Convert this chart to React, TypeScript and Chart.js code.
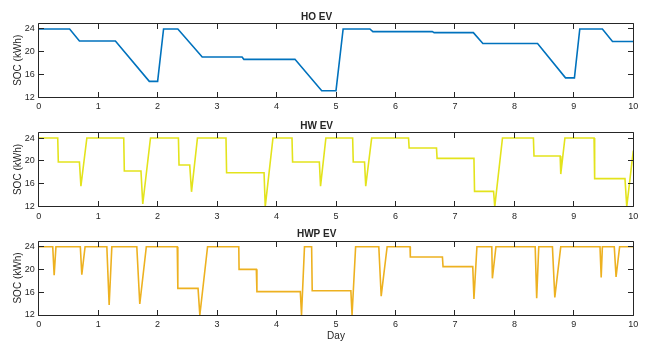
import React, { useEffect, useRef } from "react";
import { Chart, registerables } from "chart.js";

Chart.register(...registerables);

// ---- data ----
const dayTicks = [0, 1, 2, 3, 4, 5, 6, 7, 8, 9, 10];
const socTicks = [12, 16, 20, 24];

const titles = ["HO EV", "HW EV", "HWP EV"];
const colors = ["#0072BD", "#E3E31C", "#EDB120"];

const hoDays = [0, 0.52, 0.685, 1.29, 1.86, 2.0, 2.1, 2.34, 2.75, 3.42, 3.45, 4.31, 4.76, 5.0, 5.12, 5.57, 5.62, 6.62, 6.65, 7.31, 7.47, 8.39, 8.86, 9.01, 9.1, 9.48, 9.65, 10];
const hoSoc = [24, 24, 21.9, 21.9, 14.8, 14.8, 24, 24, 19.07, 19.07, 18.67, 18.67, 13.16, 13.16, 24, 24, 23.54, 23.54, 23.36, 23.36, 21.45, 21.45, 15.42, 15.42, 24, 24, 21.8, 21.8];

const hwDays = [0, 0.32, 0.33, 0.685, 0.71, 0.81, 1.43, 1.44, 1.72, 1.75, 1.88, 2.35, 2.36, 2.54, 2.57, 2.67, 3.15, 3.16, 3.79, 3.81, 3.94, 4.26, 4.27, 4.72, 4.74, 4.83, 5.28, 5.29, 5.48, 5.5, 5.6, 6.22, 6.23, 6.69, 6.7, 7.32, 7.33, 7.65, 7.67, 7.8, 8.32, 8.33, 8.77, 8.78, 8.85, 9.34, 9.35, 9.86, 9.89, 10];
const hwSoc = [24, 24, 19.8, 19.8, 15.6, 24, 24, 18.23, 18.23, 12.47, 24, 24, 19.28, 19.28, 14.6, 24, 24, 17.94, 17.94, 12.0, 24, 24, 19.8, 19.8, 15.6, 24, 24, 19.8, 19.8, 15.6, 24, 24, 22.25, 22.25, 20.45, 20.45, 14.68, 14.68, 12.0, 24, 24, 20.85, 20.85, 17.7, 24, 24, 16.9, 16.9, 12.0, 21.8];

const hwpDays = [0, 0.236, 0.26, 0.29, 0.7, 0.725, 0.78, 1.146, 1.185, 1.23, 1.65, 1.7, 1.81, 2.33, 2.34, 2.68, 2.71, 2.84, 3.365, 3.37, 3.66, 3.67, 4.4, 4.42, 4.47, 4.59, 4.6, 5.25, 5.27, 5.33, 5.72, 5.76, 5.86, 6.245, 6.25, 6.79, 6.8, 7.3, 7.32, 7.37, 7.62, 7.63, 7.69, 8.35, 8.375, 8.41, 8.64, 8.68, 8.78, 9.44, 9.46, 9.48, 9.68, 9.71, 9.77, 10];
const hwpSoc = [24, 24, 19.0, 24, 24, 19.1, 24, 24, 13.76, 24, 24, 13.93, 24, 24, 16.68, 16.68, 12.0, 24, 24, 20.02, 20.02, 16.1, 16.1, 12.0, 24, 24, 16.27, 16.27, 12.0, 24, 24, 15.3, 24, 24, 22.2, 22.2, 20.5, 20.5, 14.8, 24, 24, 18.44, 24, 24, 14.93, 24, 24, 15.1, 24, 24, 18.6, 24, 24, 18.7, 24, 24];

const FONT = '"Liberation Sans", Arial, Helvetica, sans-serif';
const INK = "#262626";
const TICK_LEN = 5.5;

const boxPlugin = {
  id: "matlabBox",
  afterDatasetsDraw(chart: any) {
    const { ctx, chartArea: a, scales } = chart;
    const xs = scales.x;
    const ys = scales.y;
    const L = Math.floor(a.left) + 0.5;
    const R = Math.floor(a.right) + 0.5;
    const T = Math.floor(a.top) + 0.5;
    const B = Math.floor(a.bottom) + 0.5;
    ctx.save();
    ctx.strokeStyle = INK;
    ctx.lineWidth = 1;
    ctx.beginPath();
    ctx.rect(L, T, R - L, B - T);
    for (const v of dayTicks) {
      const px = Math.floor(xs.getPixelForValue(v)) + 0.5;
      ctx.moveTo(px, B);
      ctx.lineTo(px, B - TICK_LEN);
      ctx.moveTo(px, T);
      ctx.lineTo(px, T + TICK_LEN);
    }
    for (const v of socTicks) {
      const py = Math.floor(ys.getPixelForValue(v)) + 0.5;
      ctx.moveTo(L, py);
      ctx.lineTo(L + TICK_LEN, py);
      ctx.moveTo(R, py);
      ctx.lineTo(R - TICK_LEN, py);
    }
    ctx.stroke();
    ctx.restore();
  },
};

type Panel = {
  title: string;
  color: string;
  days: number[];
  soc: number[];
  top: number;
  height: number;
  plotTop: number;
  plotBottom: number;
  showDay: boolean;
};

const panels: Panel[] = [
  { title: titles[0], color: colors[0], days: hoDays, soc: hoSoc, top: 0, height: 114, plotTop: 23.3, plotBottom: 97.3, showDay: false },
  { title: titles[1], color: colors[1], days: hwDays, soc: hwSoc, top: 110, height: 114, plotTop: 22.3, plotBottom: 96.7, showDay: false },
  { title: titles[2], color: colors[2], days: hwpDays, soc: hwpSoc, top: 220, height: 124, plotTop: 21, plotBottom: 95, showDay: true },
];

function makeConfig(p: Panel): any {
  const titleLine = 12;
  const padBottom = 0.3;
  const padTop = p.plotTop - titleLine - padBottom;
  const xh = p.height - p.plotBottom;
  return {
    type: "line",
    data: {
      datasets: [
        {
          data: p.days.map((d, i) => ({ x: d, y: p.soc[i] })),
          borderColor: p.color,
          backgroundColor: p.color,
          borderWidth: 1.6,
          pointRadius: 0,
          tension: 0,
          fill: false,
        },
      ],
    },
    options: {
      animation: false,
      responsive: false,
      maintainAspectRatio: false,
      events: [],
      layout: { padding: { left: 0, right: 15.7, top: 0, bottom: 0 } },
      plugins: {
        legend: { display: false },
        tooltip: { enabled: false },
        title: {
          display: true,
          text: p.title,
          color: INK,
          font: { family: FONT, size: 10, weight: "bold", lineHeight: 1.2 },
          padding: { top: padTop, bottom: padBottom },
        },
      },
      scales: {
        x: {
          type: "linear",
          min: 0,
          max: 10,
          grid: { display: false, drawTicks: false },
          border: { display: false },
          afterBuildTicks: (s: any) => {
            s.ticks = dayTicks.map((v) => ({ value: v }));
          },
          afterFit: (s: any) => {
            s.height = xh;
          },
          ticks: {
            padding: 4.3,
            color: INK,
            autoSkip: false,
            maxRotation: 0,
            font: { family: FONT, size: 9 },
          },
          title: {
            display: p.showDay,
            text: "Day",
            color: INK,
            font: { family: FONT, size: 10, lineHeight: 1.2 },
            padding: { top: 0, bottom: 2 },
          },
        },
        y: {
          type: "linear",
          min: 12,
          max: 25,
          grid: { display: false, drawTicks: false },
          border: { display: false },
          afterBuildTicks: (s: any) => {
            s.ticks = socTicks.map((v) => ({ value: v }));
          },
          afterFit: (s: any) => {
            s.width = 38.7;
          },
          ticks: {
            padding: 4,
            color: INK,
            font: { family: FONT, size: 9 },
          },
          title: {
            display: true,
            text: "SOC (kWh)",
            color: INK,
            font: { family: FONT, size: 10, lineHeight: 1.2 },
            padding: { top: 12, bottom: 0 },
          },
        },
      },
    },
    plugins: [boxPlugin],
  };
}

export default function App() {
  const r0 = useRef<HTMLCanvasElement>(null);
  const r1 = useRef<HTMLCanvasElement>(null);
  const r2 = useRef<HTMLCanvasElement>(null);
  const refs = [r0, r1, r2];

  useEffect(() => {
    const charts: Chart[] = [];
    panels.forEach((p, i) => {
      const c = refs[i].current;
      if (c) charts.push(new Chart(c, makeConfig(p)));
    });
    return () => charts.forEach((c) => c.destroy());
  }, []);

  return (
    <div style={{ position: "fixed", left: 0, top: 0, width: 649, height: 344, background: "#fff", overflow: "hidden" }}>
      {panels.map((p, i) => (
        <canvas
          key={p.title}
          ref={refs[i]}
          width={649}
          height={p.height}
          style={{ position: "absolute", left: 0, top: p.top, width: 649, height: p.height }}
        />
      ))}
    </div>
  );
}
